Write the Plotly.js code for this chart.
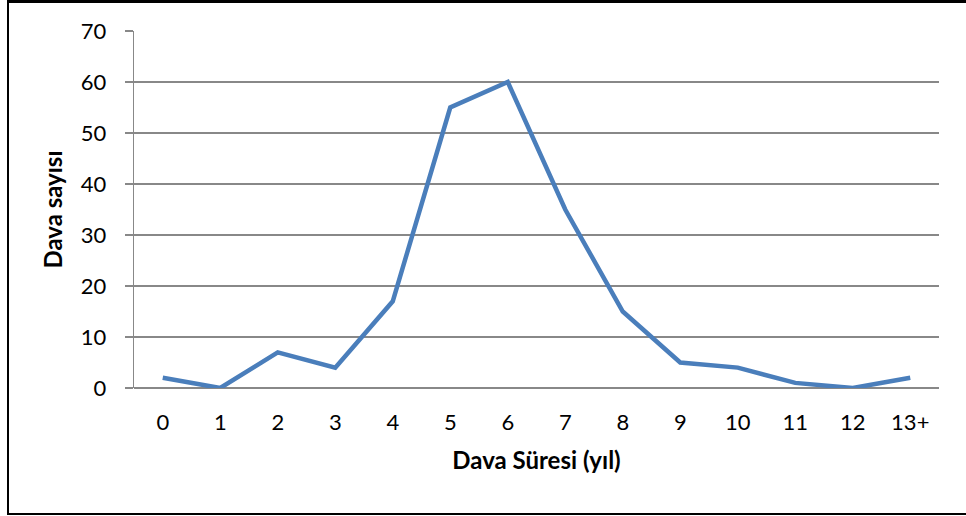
<!DOCTYPE html>
<html>
<head>
<meta charset="utf-8">
<script src="https://cdn.plot.ly/plotly-3.0.1.min.js"></script>
<style>
  html, body { margin: 0; padding: 0; background: #fff; }
  #wrap { position: relative; width: 966px; height: 516px; }
  #frame { position: absolute; left: 7px; top: 0px; width: 980px; height: 510px;
           border-left: 2px solid #000; border-top: 3px solid #000; border-bottom: 2px solid #000; box-sizing: content-box; pointer-events: none; }
  #chart { position: absolute; left: 0; top: 0; width: 966px; height: 516px; }
</style>
</head>
<body>
<div id="wrap">
  <div id="chart"></div>
  <div id="frame"></div>
</div>
<script>
const categories = ["0","1","2","3","4","5","6","7","8","9","10","11","12","13+"];
const davaSayisi = [2, 0, 7, 4, 17, 55, 60, 35, 15, 5, 4, 1, 0, 2];
const yTicks = [0, 10, 20, 30, 40, 50, 60, 70];

const FONT = "Lato, 'Open Sans', 'Noto Sans', sans-serif";

const trace = {
  x: categories,
  y: davaSayisi,
  type: 'scatter',
  mode: 'lines',
  line: { color: '#4A7EBB', width: 4.5 },
  hoverinfo: 'x+y'
};

const layout = {
  width: 966,
  height: 516,
  margin: { l: 134, r: 27, t: 31, b: 128 },
  paper_bgcolor: '#ffffff',
  plot_bgcolor: '#ffffff',
  showlegend: false,
  font: { family: FONT, color: '#000', size: 22 },
  xaxis: {
    type: 'category',
    range: [-0.5, 13.5],
    showgrid: false,
    zeroline: false,
    showline: false,
    ticks: '',
    ticklabelstandoff: 19,
    tickfont: { family: FONT, size: 22, color: '#000' },
    title: { text: 'Dava Süresi (yıl)', font: { family: FONT, size: 24, color: '#000', weight: 'bold' }, standoff: 18 },
    automargin: false
  },
  yaxis: {
    range: [0, 70],
    tickvals: yTicks,
    ticktext: yTicks.map(String),
    showgrid: true,
    gridcolor: '#888888',
    gridwidth: 1.3,
    zeroline: true,
    zerolinecolor: '#888888',
    zerolinewidth: 1.3,
    showline: true,
    linecolor: '#888888',
    linewidth: 1.3,
    ticks: 'outside',
    ticklen: 8,
    tickcolor: '#888888',
    tickwidth: 1.3,
    ticklabelstandoff: 14,
    tickfont: { family: FONT, size: 22, color: '#000' },
    title: { text: 'Dava sayısı', font: { family: FONT, size: 24, color: '#000', weight: 'bold' }, standoff: 11 },
    automargin: false
  }
};

Plotly.newPlot('chart', [trace], layout, { displayModeBar: false, staticPlot: true });
</script>
</body>
</html>
